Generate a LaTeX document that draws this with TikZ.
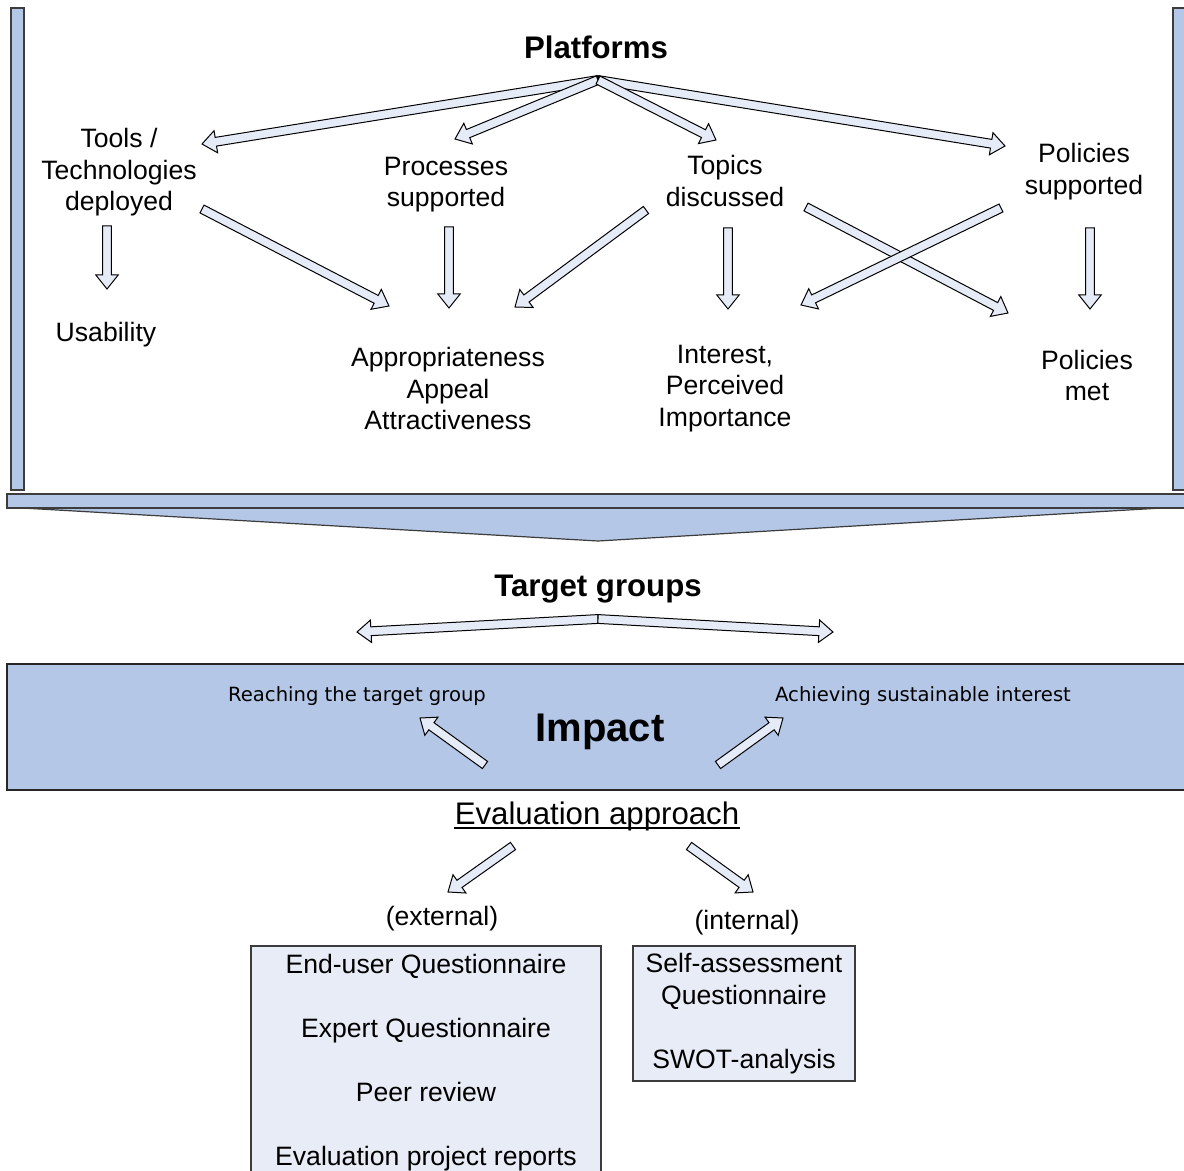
\documentclass[tikz,border=0pt]{standalone}
\usepackage{fontspec}
\setmainfont{Liberation Sans}
\newfontfamily\labelfont{DejaVu Sans}
\usetikzlibrary{calc}
\definecolor{barblue}{RGB}{180,199,231}
\definecolor{arrowfill}{RGB}{230,236,247}
\definecolor{boxfill}{RGB}{231,236,246}
\definecolor{edgegray}{RGB}{60,60,60}

\tikzset{
  txt/.style={inner sep=0pt, align=center, font=\fontsize{13.3}{15.75}\selectfont},
  headtxt/.style={inner sep=0pt, font=\bfseries\fontsize{15.6}{18}\selectfont},
  smalltxt/.style={inner sep=0pt, font=\labelfont\fontsize{9.8}{12}\selectfont},
  barshape/.style={draw=edgegray, fill=barblue, line width=0.6pt},
  evalbox/.style={draw=edgegray, fill=boxfill, line width=0.6pt, inner sep=0pt,
    align=center, font=\fontsize{13.3}{15.75}\selectfont},
  % hollow block arrow drawn between two points
  blockarrow/.style={draw=black, fill=arrowfill, line width=0.5pt, line join=miter,
    to path={
      let \p1=(\tikztostart), \p2=(\tikztotarget),
          \n1={atan2(\y2-\y1,\x2-\x1)}, \n2={veclen(\x2-\x1,\y2-\y1)-7pt}
      in ($(\p1)+(\n1-90:2.2pt)$)
      -- ($(\p1)+(\n1:\n2)+(\n1-90:2.2pt)$)
      -- ($(\p1)+(\n1:\n2)+(\n1-90:5.6pt)$)
      -- (\p2)
      -- ($(\p1)+(\n1:\n2)+(\n1+90:5.6pt)$)
      -- ($(\p1)+(\n1:\n2)+(\n1+90:2.2pt)$)
      -- ($(\p1)+(\n1+90:2.2pt)$)
      -- cycle}}
}

\begin{document}
\begin{tikzpicture}[x=0.5pt,y=-0.5pt]
\useasboundingbox (0,0) rectangle (1184,1171);
\fill[white] (0,0) rectangle (1184,1171);
\clip (0,0) rectangle (1184,1171);

% frame of the platforms section
\draw[barshape] (11,8) rectangle (24,490);
\draw[barshape] (1173,8) rectangle (1190,490);
\draw[barshape] (22,508) -- (598,541) -- (1162,508) -- cycle;
\draw[barshape] (7,494) rectangle (1190,508);

% impact band
\draw[draw=black!85, fill=barblue, line width=0.8pt] (7,664) rectangle (1190,790);

% labels
\node[headtxt] (platforms) at (596,47) {Platforms};
\node[txt] (tools) at (119,172.3) {Tools /\\Technologies\\deployed};
\node[txt] (processes) at (446,184.8) {Processes\\supported};
\node[txt] (topics) at (725,181) {Topics\\discussed};
\node[txt] (policies) at (1084,171.8) {Policies\\supported};
\node[txt] (usability) at (106,334.8) {Usability};
\node[txt] (approp) at (448,388.5) {Appropriateness\\Appeal\\Attractiveness};
\node[txt] (interest) at (725,388.3) {Interest,\\Perceived\\Importance};
\node[txt] (polmet) at (1087,375.5) {Policies\\met};

\node[headtxt] (target) at (598,589.3) {Target groups};
\node[smalltxt] (reach) at (357,696.4) {Reaching the target group};
\node[smalltxt] (achieve) at (923,696.4) {Achieving sustainable interest};
\node[inner sep=0pt, font=\bfseries\fontsize{20}{24}\selectfont] (impact) at (600,732) {Impact};

\node[inner sep=0pt, font=\fontsize{15.6}{18}\selectfont] (evalapp) at (597,816.3) {Evaluation approach};
\draw[line width=1pt] ([yshift=-1.6pt]evalapp.base west) -- ([yshift=-1.6pt]evalapp.base east);

\node[txt] (external) at (442,919) {(external)};
\node[txt] (internal) at (747,923) {(internal)};

\node[evalbox, minimum width=175pt, minimum height=116.8pt] (extbox) at (426,1062.8)
  {End-user Questionnaire\\[16.25pt]Expert Questionnaire\\[16.25pt]Peer review\\[16.25pt]Evaluation project reports};
\node[evalbox, minimum width=111pt, minimum height=67.5pt] (intbox) at (744,1013.5)
  {Self-assessment\\Questionnaire\\[16.25pt]SWOT-analysis};

% arrow end points
\coordinate (pf) at (598,80);
\coordinate (toTools) at (202,144);
\coordinate (toProc) at (455,139);
\coordinate (toTopics) at (716,140);
\coordinate (toPol) at (1005,146);
\coordinate (toolsOut) at (202,209);
\coordinate (toolsIn) at (389,306);
\coordinate (toolsDown) at (107,226);
\coordinate (usabIn) at (107,289);
\coordinate (procDown) at (449,227);
\coordinate (procIn) at (449,308);
\coordinate (topOutL) at (646,210);
\coordinate (topInL) at (515,307);
\coordinate (topDown) at (728,228);
\coordinate (topIn) at (728,309);
\coordinate (topOutR) at (806,207);
\coordinate (topInR) at (1008,313);
\coordinate (polOutL) at (1001,208);
\coordinate (polInL) at (801,305);
\coordinate (polDown) at (1090,228);
\coordinate (polIn) at (1090,309);
\coordinate (tg) at (598,619);
\coordinate (tgL) at (357,632);
\coordinate (tgR) at (833,632);
\coordinate (impLout) at (485,765);
\coordinate (impLin) at (420,718);
\coordinate (impRout) at (718,765);
\coordinate (impRin) at (783,718);
\coordinate (evLout) at (513,846);
\coordinate (evLin) at (448,892);
\coordinate (evRout) at (689,846);
\coordinate (evRin) at (753,892);

% block arrows
\draw[blockarrow] (pf) to (toTools);
\draw[blockarrow] (pf) to (toPol);
\draw[blockarrow] (pf) to (toProc);
\draw[blockarrow] (pf) to (toTopics);
\draw[blockarrow] (toolsOut) to (toolsIn);
\draw[blockarrow] (toolsDown) to (usabIn);
\draw[blockarrow] (procDown) to (procIn);
\draw[blockarrow] (topOutL) to (topInL);
\draw[blockarrow] (topDown) to (topIn);
\draw[blockarrow] (topOutR) to (topInR);
\draw[blockarrow] (polOutL) to (polInL);
\draw[blockarrow] (polDown) to (polIn);
\draw[blockarrow] (tg) to (tgL);
\draw[blockarrow] (tg) to (tgR);
\draw[blockarrow] (impLout) to (impLin);
\draw[blockarrow] (impRout) to (impRin);
\draw[blockarrow] (evLout) to (evLin);
\draw[blockarrow] (evRout) to (evRin);
\end{tikzpicture}
\end{document}
